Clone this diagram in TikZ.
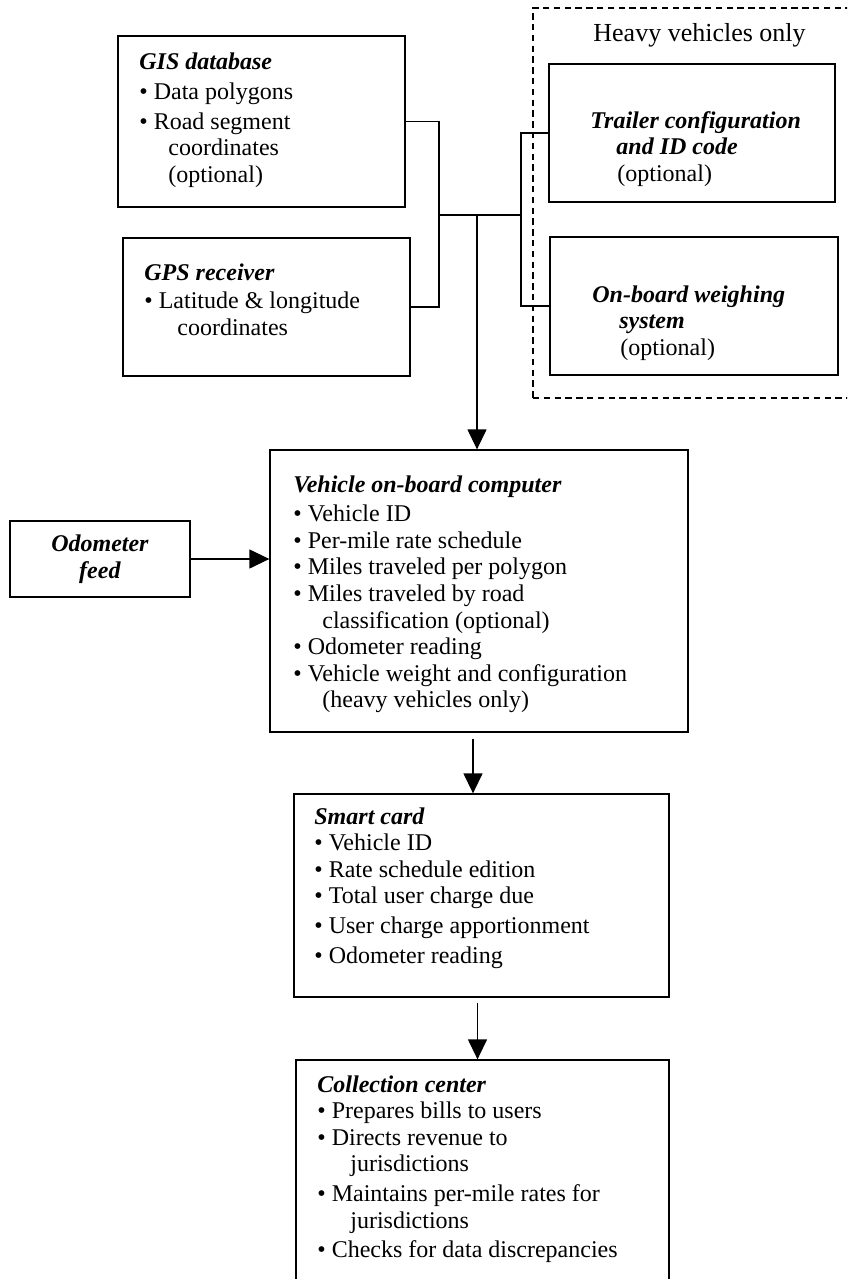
\documentclass[tikz,border=0pt]{standalone}
\usepackage{fontspec}
\setmainfont{Liberation Serif}
\usetikzlibrary{arrows.meta,fit}

\tikzset{
	box/.style={draw, line width=0.65pt, inner sep=0pt},
	heavybox/.style={draw, dashed, dash pattern=on 3.2pt off 2.2pt, line width=0.6pt, inner sep=0pt},
	txt/.style={anchor=base west, inner sep=0pt, font=\fontsize{12}{13.3}\selectfont},
	wire/.style={line width=0.65pt},
	feed/.style={-{Triangle[length=10pt,width=9.5pt]}, line width=0.65pt}
}
\newcommand{\bt}[1]{\textbf{\textit{#1}}}
\newcommand{\cont}{\hspace*{14.5pt}}
\newcommand{\lines}[1]{\begin{tabular}[t]{@{}l@{}}#1\end{tabular}}

\begin{document}
\begin{tikzpicture}[x=0.5pt,y=-0.5pt]
	\useasboundingbox (0,0) rectangle (847,1279);
	\clip (0,0) rectangle (847,1279);

	% Draw input boxes
	\node[box, fit={(118,36) (405,207)}] (gis) {};
	\node[txt] (gistxt) at (139,70) {\lines{\bt{GIS database}\\[1.5pt]
		\textbullet\ Data polygons\\[1.5pt]
		\textbullet\ Road segment\\
		\cont coordinates\\
		\cont (optional)}};

	\node[box, fit={(123,238) (410,376)}] (gps) {};
	\node[txt] (gpstxt) at (144,280) {\lines{\bt{GPS receiver}\\[1pt]
		\textbullet\ Latitude \& longitude\\
		\cont\hspace{2pt}coordinates}};

	% Heavy vehicles only
	\node[heavybox, fit={(533,8) (870,398)}] (heavy) {};
	\node[txt, font=\fontsize{13}{15}\selectfont] (heavytxt) at (593,42) {Heavy vehicles only};

	\node[box, fit={(549,64) (835,202)}] (trailer) {};
	\node[txt] (trailertxt) at (590,128) {\lines{\bt{Trailer configuration}\\
		\hspace*{13pt}\bt{and ID code}\\
		\hspace*{13.5pt}(optional)}};

	\node[box, fit={(550,237) (838,375)}] (weigh) {};
	\node[txt] (weightxt) at (592,302) {\lines{\bt{On-board weighing}\\
		\hspace*{13.5pt}\bt{system}\\
		\hspace*{14pt}(optional)}};

	% Junctions
	\coordinate (jl) at (439,215);
	\coordinate (jr) at (521,215);
	\coordinate (jm) at (477,215);
	\draw[wire] (gis.east) -| (jl) |- (gps.east);
	\draw[wire] (jl) -- (jr);
	\draw[wire] (trailer.west) -| (jr) |- (weigh.west);

	% On-board computer
	\node[box, fit={(270,450) (688,732)}] (obc) {};
	\node[txt] (obctxt) at (293,492) {\lines{\bt{Vehicle on-board computer}\\[1.5pt]
		\textbullet\ Vehicle ID\\
		\textbullet\ Per-mile rate schedule\\
		\textbullet\ Miles traveled per polygon\\
		\textbullet\ Miles traveled by road\\
		\cont classification (optional)\\
		\textbullet\ Odometer reading\\
		\textbullet\ Vehicle weight and configuration\\
		\cont (heavy vehicles only)}};
	\draw[feed] (jm) -- (jm |- obc.north);

	\node[box, fit={(10,521) (190,597)}] (odo) {};
	\node[txt, anchor=center, align=center] (odotxt) at (odo.center) {\bt{Odometer}\\\bt{feed}};
	\draw[feed] (odo.east) -- (odo.east -| obc.west);

	% Smart card
	\node[box, fit={(294,794) (669,997)}] (card) {};
	\node[txt] (cardtxt) at (314,824) {\lines{\bt{Smart card}\\
		\textbullet\ Vehicle ID\\
		\textbullet\ Rate schedule edition\\
		\textbullet\ Total user charge due\\[1.5pt]
		\textbullet\ User charge apportionment\\[1.5pt]
		\textbullet\ Odometer reading}};
	\draw[feed, shorten <=3pt] ([xshift=-3pt]obc.south) -- ([xshift=-3pt]obc.south |- card.north);

	% Collection center
	\node[box, fit={(296,1060) (669,1320)}] (center) {};
	\node[txt] (centertxt) at (317,1092) {\lines{\bt{Collection center}\\
		\textbullet\ Prepares bills to users\\
		\textbullet\ Directs revenue to\\
		\cont\hspace{2pt}jurisdictions\\[1.5pt]
		\textbullet\ Maintains per-mile rates for\\
		\cont\hspace{2pt}jurisdictions\\[1.5pt]
		\textbullet\ Checks for data discrepancies}};
	\draw[feed, shorten <=2.5pt] ([xshift=-2pt]card.south) -- ([xshift=-2pt]card.south |- center.north);
\end{tikzpicture}
\end{document}
